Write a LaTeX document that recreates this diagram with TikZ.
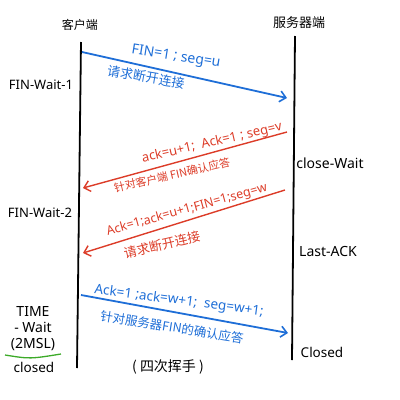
\documentclass[tikz,border=0pt]{standalone}
\usepackage{fontspec}
\setmainfont{Noto Sans}
\newfontfamily\cjk{Noto Sans CJK SC}
\usetikzlibrary{arrows.meta}
\definecolor{hblue}{RGB}{30,110,215}
\definecolor{hred}{RGB}{220,60,40}
\definecolor{hgreen}{RGB}{60,170,40}
\tikzset{
  life/.style={line width=1.8pt, black},
  msgblue/.style={line width=1.8pt, hblue, -{Straight Barb[length=6pt,width=11pt,line width=1.6pt]}},
  msgred/.style={line width=1.4pt, hred, -{Straight Barb[length=6pt,width=11pt,line width=1.4pt]}},
  lbl/.style={inner sep=0pt, font=\fontsize{13}{15}\selectfont},
  btxt/.style={inner sep=0pt, text=hblue},
  rtxt/.style={inner sep=0pt, text=hred},
  cbtxt/.style={inner sep=0pt, text=hblue},
  crtxt/.style={inner sep=0pt, text=hred},
}
\begin{document}
\begin{tikzpicture}[x=1pt,y=-1pt]
\useasboundingbox (0,0) rectangle (400,400);
% lifelines
\coordinate (ctop) at (81,42);
\coordinate (cbot) at (77,368);
\coordinate (stop) at (295,36);
\coordinate (sbot) at (292,360);
\draw[life] (ctop) -- (cbot);
\draw[life] (stop) -- (sbot);
\node[lbl, font=\cjk\fontsize{12}{14}\selectfont] (client) at (80,25) {客户端};
\node[lbl, font=\cjk\fontsize{13}{14}\selectfont] (server) at (299,23) {服务器端};
% arrow 1
\coordinate (a1s) at (82,52);
\coordinate (a1e) at (287,98);
\draw[msgblue] (a1s) -- (a1e);
\node[btxt, rotate=-9, font=\fontsize{14}{16}\selectfont] (t1) at (176,57) {FIN=1 ; seg=u};
\node[cbtxt, rotate=-9.5, font=\cjk\fontsize{13}{14}\selectfont] (t1b) at (146,77) {请求断开连接};
\node[lbl] (fw1) at (41,85) {FIN-Wait-1};
% arrow 2
\coordinate (a2s) at (287,132);
\coordinate (a2e) at (83,188);
\draw[msgred] (a2s) -- (a2e);
\node[rtxt, rotate=13, font=\fontsize{13}{15}\selectfont] (t2) at (212,143) {ack=u+1;\ \ Ack=1 ; seg=v};
\node[crtxt, rotate=13, font=\cjk\fontsize{11}{13}\selectfont] (t2b) at (172,175) {针对客户端 FIN确认应答};
\node[lbl, font=\fontsize{14}{16}\selectfont] (cw) at (330,163) {close-Wait};
\node[lbl] (fw2) at (40,213) {FIN-Wait-2};
% arrow 3
\coordinate (a3s) at (285,190);
\coordinate (a3e) at (83,253);
\draw[msgred] (a3s) -- (a3e);
\node[rtxt, rotate=15.5, font=\fontsize{12.5}{14}\selectfont] (t3) at (187,210) {Ack=1;ack=u+1;FIN=1;seg=w};
\node[crtxt, rotate=13, font=\cjk\fontsize{13}{14}\selectfont] (t3b) at (162,245) {请求断开连接};
\node[lbl, font=\fontsize{14}{16}\selectfont] (la) at (328,251) {Last-ACK};
% arrow 4
\coordinate (a4s) at (81,295);
\coordinate (a4e) at (288,333);
\draw[msgblue] (a4s) -- (a4e);
\node[btxt, rotate=-7.6, font=\fontsize{13.5}{15}\selectfont] (t4) at (179,301) {Ack=1 ;ack=w+1;\ \ seg=w+1;};
\node[cbtxt, rotate=-9, font=\cjk\fontsize{12.5}{14}\selectfont] (t4b) at (172,327) {针对服务器FIN的确认应答};
% left states
\node[lbl, align=center, font=\fontsize{14}{16}\selectfont] (tw) at (33,329) {TIME\\- Wait\\(2MSL)};
\coordinate (ul1) at (5,355);
\coordinate (ul2) at (61,354);
\draw[hgreen, line width=1.3pt] (ul1) .. controls (30,359) .. (ul2);
\node[lbl, font=\fontsize{13.5}{15}\selectfont] (cl) at (34,367) {closed};
\node[lbl, font=\fontsize{13.5}{15}\selectfont] (cr) at (322,352) {Closed};
\node[lbl, font=\cjk\fontsize{14}{16}\selectfont] (fh) at (168,367) {( 四次挥手 )};
\end{tikzpicture}
\end{document}
